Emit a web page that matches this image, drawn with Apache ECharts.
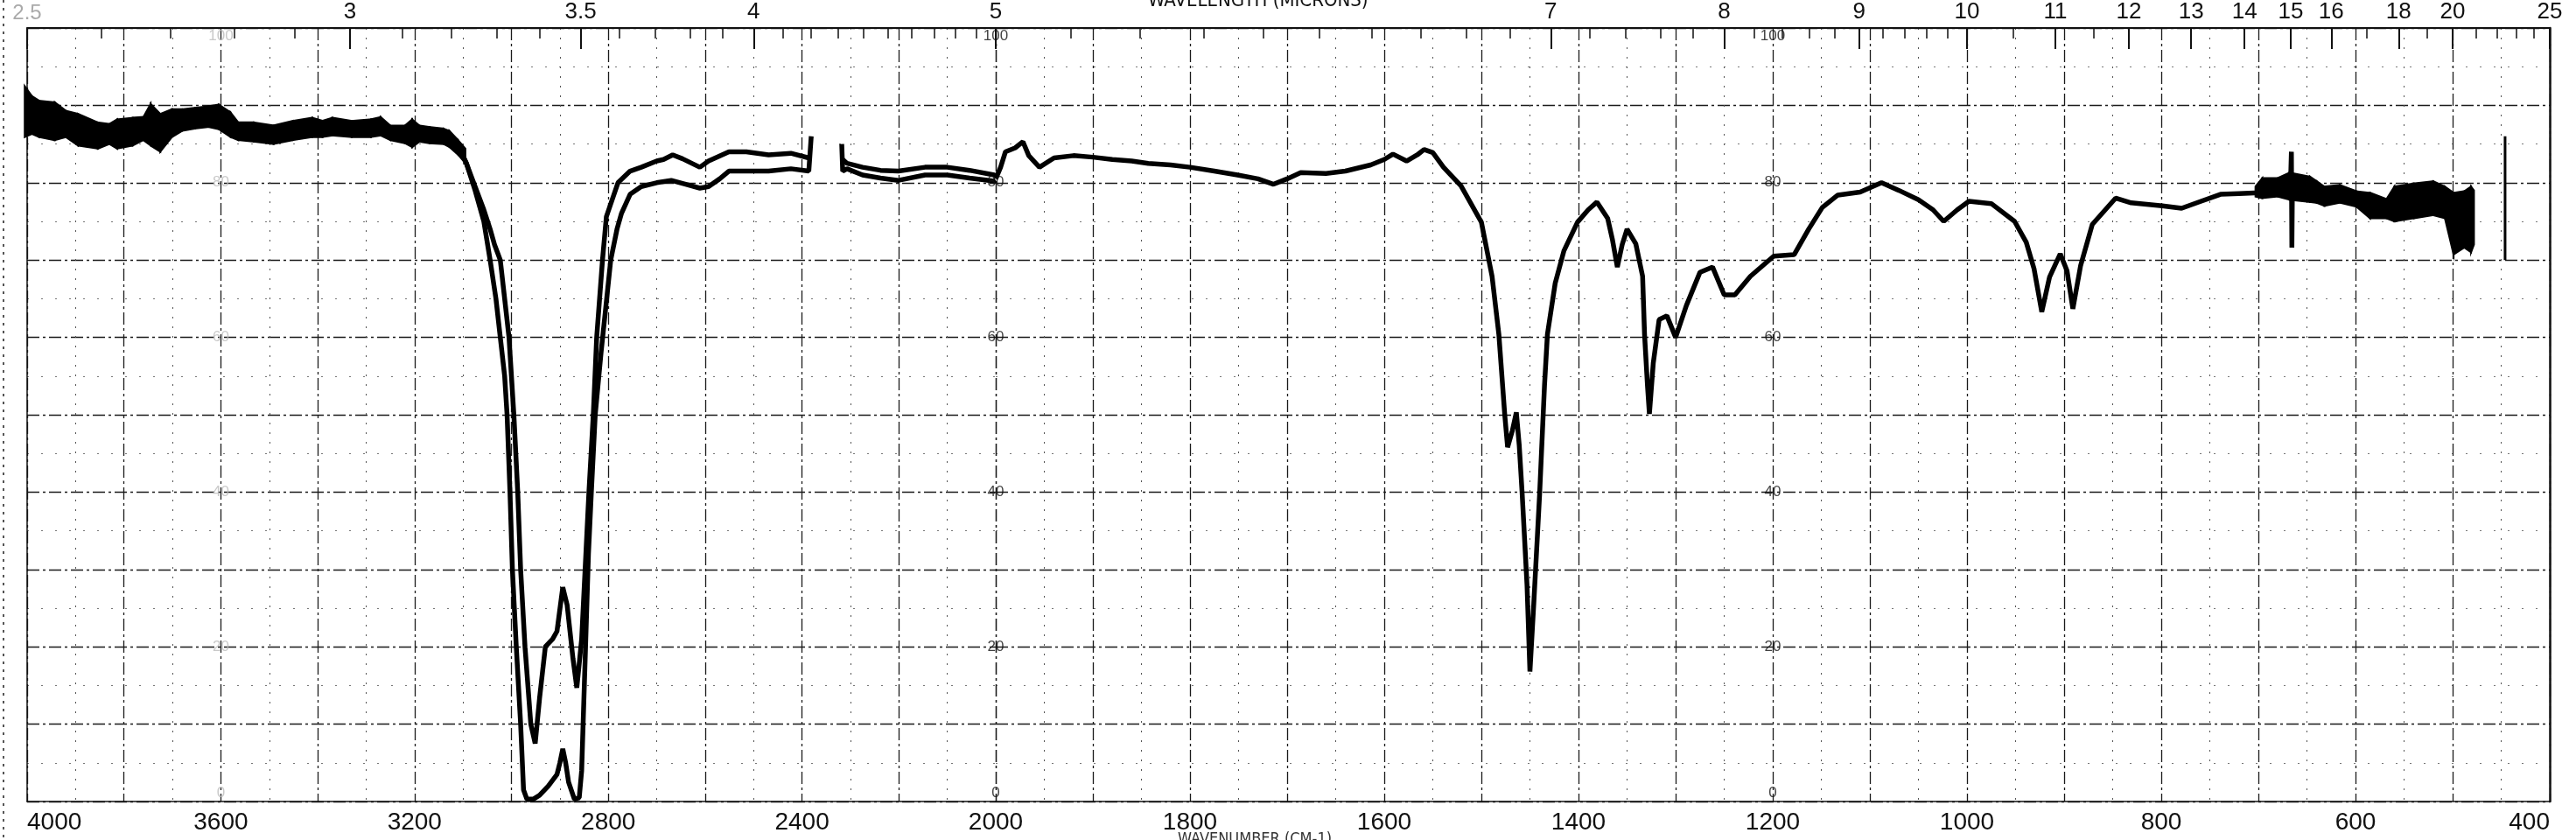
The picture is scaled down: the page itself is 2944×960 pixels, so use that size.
<!DOCTYPE html>
<html><head><meta charset="utf-8">
<script src="https://cdn.jsdelivr.net/npm/echarts@6/dist/echarts.min.js"></script>
<style>html,body{margin:0;padding:0;background:#fff}#c{width:2944px;height:960px}</style>
</head><body><div id="c"></div>
<script>
// ---------- axis labels / ticks ----------
const bottomLabelsLeft = [4000, 3600, 3200, 2800, 2400];
const bottomLabelsRight = [2000, 1800, 1600, 1400, 1200, 1000, 800, 600, 400];
const micronLabelsLeft = [2.5, 3, 3.5, 4];
const micronLabelsRight = [5, 7, 8, 9, 10, 11, 12, 13, 14, 15, 16, 18, 20, 25];
const micronTicksLeft = [2.5,2.6,2.7,2.8,2.9,3.0,3.1,3.2,3.3,3.4,3.5,3.6,3.7,3.8,3.9,4.0,4.1,4.2,4.3,4.4,4.5,4.6,4.7,4.8,4.9,5.0];
const micronTicksRight = [5.0,5.2,5.4,5.6,5.8,6.0,6.2,6.4,6.6,6.8,7.0,7.2,7.4,7.6,7.8,8.0,8.2,8.4,8.6,8.8,9.0,9.2,9.4,9.6,9.8,10,10.5,11,11.5,12,13,14,15,16,17,18,19,20,21,22,23,24,25];
const transLabels = [100, 80, 60, 40, 20, 0];
const transLabelColumns = [2000, 1200];
const transLabelColumnsFaint = [3600];

// ---------- noisy envelope 4000-3100 cm-1 ----------
const bandLeftWn = [4005,3990,3975,3943,3920,3895,3854,3830,3814,3782,3760,3745,3725,3701,3680,3653,3625,3604,3580,3564,3532,3491,3451,3411,3390,3370,3330,3290,3270,3250,3220,3205,3190,3169,3140,3128,3110,3095];
const bandLeftLo = [85.9,86.3,85.9,85.5,85.9,84.8,84.4,85.0,84.4,84.8,85.5,84.8,84.0,85.9,86.7,87.0,87.2,86.9,85.9,85.5,85.3,85.0,85.5,85.9,85.9,86.1,85.9,85.9,86.1,85.5,85.1,84.6,85.3,85.1,85.0,84.6,83.6,82.5];
const bandLeftHi = [92.5,91.2,90.6,90.4,89.3,88.9,87.8,87.6,88.2,88.4,88.5,90.2,88.9,89.5,89.5,89.7,89.9,90.1,89.1,87.8,87.8,87.4,88.0,88.4,88.0,88.4,88.0,88.2,88.5,87.4,87.4,88.2,87.4,87.2,87.0,86.7,85.5,84.4];

// ---------- scan A (deeper) 3110-2000 ----------
const scanAWn = [3110,3093,3075,3057,3044,3032,3023,3014,3009,3003,2998,2990,2981,2975,2968,2955,2942,2924,2906,2900,2894,2888,2882,2870,2860,2855,2852,2846,2841,2835,2827,2815,2805,2795,2782,2773,2755,2732,2700,2670,2640,2611,2593,2570,2551,2515,2469,2423,2386,2381,2380,2319,2318,2316,2307,2275,2238,2201,2146,2100,2054,2003,2000];
const scanAT  = [84.8,82.5,79.0,75.0,70.0,65.0,60.0,55.0,50.0,40.0,30.0,20.0,10.0,1.5,0.3,0.3,0.8,2.0,3.5,5.0,6.8,5.0,2.5,0.3,0.5,4.0,10.0,22.0,32.0,40.0,50.0,58.0,64.0,70.0,74.0,76.0,78.5,79.5,80.0,80.3,79.8,79.3,79.5,80.5,81.5,81.5,81.5,81.8,81.5,86.0,null,null,85.0,81.5,81.8,81.0,80.6,80.3,81.0,81.0,80.6,80.2,80.3];

// ---------- scan B (shallower) 3110-2000 ----------
const scanBWn = [3110,3093,3075,3057,3044,3035,3023,3005,2995,2987,2981,2972,2960,2951,2942,2930,2915,2906,2894,2885,2873,2865,2855,2846,2840,2831,2824,2812,2804,2780,2755,2732,2700,2686,2667,2647,2611,2593,2551,2515,2469,2423,2386,2380,2318,2316,2307,2275,2238,2201,2146,2100,2054,2003,2000];
const scanBT  = [84.8,82.5,79.5,76.5,74.0,72.0,70.0,60.0,50.0,40.0,30.0,20.0,10.0,7.5,13.3,20.0,21.0,22.0,27.7,25.4,18.5,14.7,21.0,32.4,40.0,50.0,60.0,70.0,75.6,80.0,81.5,82.0,82.8,83.0,83.6,83.1,82.0,82.8,84.0,84.0,83.6,83.8,83.2,null,null,83.0,82.5,82.0,81.6,81.5,82.0,82.0,81.6,81.0,80.8];

// ---------- 2000-400 cm-1 ----------
const mainWn = [2000,1995,1990,1980,1972,1966,1955,1940,1920,1900,1880,1860,1843,1820,1800,1775,1751,1730,1714,1700,1686,1660,1640,1614,1600,1591,1577,1566,1559,1550,1539,1521,1500,1489,1482,1476,1473,1468,1464,1461,1458,1453,1450,1446,1440,1435,1432,1424,1415,1401,1390,1381,1370,1365,1360,1355,1350,1341,1334,1332,1329,1327,1323,1317,1309,1300,1289,1275,1262,1250,1239,1223,1199,1178,1163,1149,1133,1110,1088,1070,1050,1035,1024,1010,998,975,951,939,931,923,915,904,897,891,883,871,859,847,831,799,779,759,739,720,699,680,667,666,665.5,665,648,632,621,601,580,560,540,520,508,499,488,478];
const mainT  = [80.5,82.0,84.0,84.5,85.3,83.5,82.0,83.2,83.5,83.3,83.0,82.8,82.5,82.3,82.0,81.5,81.0,80.5,79.8,80.5,81.3,81.2,81.5,82.3,83.0,83.7,82.8,83.6,84.3,83.9,82.0,79.6,74.9,67.9,60.4,50.1,45.8,48.0,50.3,46.0,39.8,28.0,16.8,25.7,39.8,53.8,60.4,67.0,71.2,74.9,76.5,77.5,75.4,72.6,69.1,72.0,74.0,72.1,67.9,60.4,53.8,50.1,56.7,62.3,62.8,60.0,64.1,68.4,69.1,65.5,65.5,67.9,70.5,70.7,74.0,76.8,78.4,78.8,80.0,79.0,77.8,76.5,75.0,76.5,77.6,77.3,75.0,72.3,68.9,63.3,67.8,70.8,68.6,63.7,69.3,74.6,76.3,78.0,77.4,77.0,76.7,77.6,78.5,78.6,78.7,79.3,79.5,84.0,71.6,79.0,79.1,78.2,78.2,77.6,77.0,76.8,77.6,78.0,77.4,75.0,75.0,75.0];

// ---------- noisy envelope 700-478 cm-1 ----------
const bandRightWn = [703,696,680,668,647,640,632,616,599,585,568,560,540,520,508,499,488,481,478];
const bandRightLo = [78.2,78.0,78.2,77.8,77.5,77.4,77.0,77.4,76.9,75.4,75.4,75.0,75.4,75.8,75.4,70.7,71.6,71.0,72.0];
const bandRightHi = [79.5,80.6,80.6,81.3,80.8,80.2,79.5,79.7,78.9,78.7,77.9,79.5,79.9,80.2,79.5,78.7,78.9,79.5,79.0];

// ---------- pen mark near 446 cm-1 ----------
const penWn = [446, 446];
const penT = [86, 70];

// ---------- helpers ----------
const zip = (a, b) => a.map((v, i) => [v, b[i]]);
const toWn = m => 10000 / m;
const fmtMicron = list => v => {
  for (const m of list) if (Math.abs(toWn(m) - v) < 0.5) return m === 2.5 ? '{f|2.5}' : String(m);
  return '';
};
function bandItems(w, lo, hi) {
  const out = [];
  for (let i = 0; i < w.length - 1; i++) out.push([w[i], lo[i], hi[i], w[i + 1], lo[i + 1], hi[i + 1]]);
  return out;
}
function bandSeries(idx, items) {
  return {
    type: 'custom', xAxisIndex: idx, yAxisIndex: idx, data: items, silent: true, z: 3,
    encode: { x: [0, 3], y: [1, 2, 4, 5] },
    renderItem: (p, api) => {
      const a = api.coord([api.value(0), api.value(1)]);
      const b = api.coord([api.value(0), api.value(2)]);
      const c = api.coord([api.value(3), api.value(5)]);
      const d = api.coord([api.value(3), api.value(4)]);
      return { type: 'polygon', shape: { points: [a, b, c, d] }, style: { fill: '#000', stroke: '#000', lineWidth: 2 } };
    }
  };
}
function labelData(cols) {
  const out = [];
  cols.forEach(c => transLabels.forEach(t => out.push({
    value: [c, t],
    label: { offset: [0, t === 100 ? 9 : (t === 0 ? -10 : 0)] }
  })));
  return out;
}

const FONT = "'Liberation Sans', Arial, sans-serif";
const gridDash = { color: '#1a1a1a', width: 1.3, type: [14, 4, 3, 4] };
const minorDot = { color: '#555', width: 1, type: [2, 9] };

function bottomAxis(gi, min, max, interval, labels, alignFirst, alignLast) {
  return {
    type: 'value', gridIndex: gi, position: 'bottom', min, max, interval, inverse: true,
    axisLine: { show: true, lineStyle: { color: '#111', width: 1.6 } },
    axisTick: { show: false },
    axisLabel: { customValues: labels, fontSize: 28, margin: 10, color: '#111', fontFamily: FONT,
      formatter: v => String(v), alignMinLabel: alignFirst, alignMaxLabel: alignLast },
    splitLine: { show: true, lineStyle: gridDash },
    minorTick: { show: false, splitNumber: 2 },
    minorSplitLine: { show: true, lineStyle: minorDot }
  };
}
function topTickAxis(gi, min, max, ticks) {
  return {
    type: 'value', gridIndex: gi, position: 'top', min, max, inverse: true,
    axisLine: { show: true, lineStyle: { color: '#111', width: 2 } },
    axisTick: { show: true, inside: true, length: 12, customValues: ticks.map(toWn), lineStyle: { color: '#111', width: 1.5 } },
    axisLabel: { show: false },
    splitLine: { show: false }
  };
}
function topLabelAxis(gi, min, max, labels) {
  return {
    type: 'value', gridIndex: gi, position: 'top', min, max, inverse: true,
    axisLine: { show: false },
    axisTick: { show: true, inside: true, length: 24, customValues: labels.map(toWn), lineStyle: { color: '#111', width: 2 } },
    axisLabel: { show: true, customValues: labels.map(toWn), formatter: fmtMicron(labels), fontSize: 26, margin: 5, color: '#111', fontFamily: FONT,
      rich: { f: { color: '#aaa', fontSize: 24, fontFamily: FONT } } },
    splitLine: { show: false }
  };
}
function yAx(gi, pos) {
  return {
    type: 'value', gridIndex: gi, position: pos, min: 0, max: 100, interval: 10,
    axisLine: { show: true, lineStyle: { color: '#111', width: pos === 'right' ? 2.5 : 1.5 } },
    axisTick: { show: false }, axisLabel: { show: false },
    splitLine: { show: true, lineStyle: gridDash },
    minorTick: { show: false, splitNumber: 2 },
    minorSplitLine: { show: true, lineStyle: { color: '#777', width: 1, type: [2, 14] } }
  };
}
const lineStyleMain = { color: '#000', width: 5.5 };

const chart = echarts.init(document.getElementById('c'), null, { renderer: 'canvas' });
chart.setOption({
  animation: false,
  backgroundColor: '#fff',
  grid: [
    { left: 31, top: 32, width: 1107, height: 884 },
    { left: 1138, top: 32, width: 1776, height: 884 }
  ],
  xAxis: [
    bottomAxis(0, 2000, 4000, 200, bottomLabelsLeft, 'left', undefined),
    bottomAxis(1, 400, 2000, 100, bottomLabelsRight, undefined, 'right'),
    topTickAxis(0, 2000, 4000, micronTicksLeft),
    topLabelAxis(0, 2000, 4000, micronLabelsLeft),
    topTickAxis(1, 400, 2000, micronTicksRight),
    topLabelAxis(1, 400, 2000, micronLabelsRight)
  ],
  yAxis: [yAx(0, 'left'), yAx(1, 'right')],
  graphic: [
    { type: 'text', left: 1312, top: -10, silent: true,
      style: { text: 'WAVELENGTH (MICRONS)', fontSize: 22, fontFamily: "'Liberation Sans Narrow', 'DejaVu Sans Condensed', sans-serif", fill: '#111' } },
    { type: 'text', left: 1346, top: 950, silent: true,
      style: { text: 'WAVENUMBER (CM-1)', fontSize: 18, fontFamily: "'Liberation Sans Narrow', 'DejaVu Sans Condensed', sans-serif", fill: '#333' } },
    { type: 'line', silent: true, shape: { x1: 4, y1: 0, x2: 4, y2: 960 },
      style: { stroke: '#555', lineWidth: 2, lineDash: [3, 6] } }
  ],
  series: [
    bandSeries(0, bandItems(bandLeftWn, bandLeftLo, bandLeftHi)),
    { type: 'line', xAxisIndex: 0, yAxisIndex: 0, data: zip(scanAWn, scanAT), symbol: 'none', connectNulls: false, lineStyle: lineStyleMain, z: 4 },
    { type: 'line', xAxisIndex: 0, yAxisIndex: 0, data: zip(scanBWn, scanBT), symbol: 'none', connectNulls: false, lineStyle: lineStyleMain, z: 4 },
    { type: 'line', xAxisIndex: 1, yAxisIndex: 1, data: zip(mainWn, mainT), symbol: 'none', lineStyle: lineStyleMain, z: 4 },
    bandSeries(1, bandItems(bandRightWn, bandRightLo, bandRightHi)),
    { type: 'line', xAxisIndex: 1, yAxisIndex: 1, data: zip(penWn, penT), symbol: 'none', lineStyle: { color: '#000', width: 3 }, z: 4 },
    { type: 'scatter', xAxisIndex: 1, yAxisIndex: 1, data: labelData(transLabelColumns), symbolSize: 0, clip: false, z: 5,
      label: { show: true, position: 'inside', color: '#111', fontSize: 17, fontFamily: FONT,
        formatter: p => String(p.value[1]) } },
    { type: 'scatter', xAxisIndex: 0, yAxisIndex: 0, data: labelData(transLabelColumnsFaint), symbolSize: 0, clip: false, z: 5,
      label: { show: true, position: 'inside', color: '#bbb', fontSize: 17, fontFamily: FONT,
        formatter: p => String(p.value[1]) } }
  ]
});
</script></body></html>
